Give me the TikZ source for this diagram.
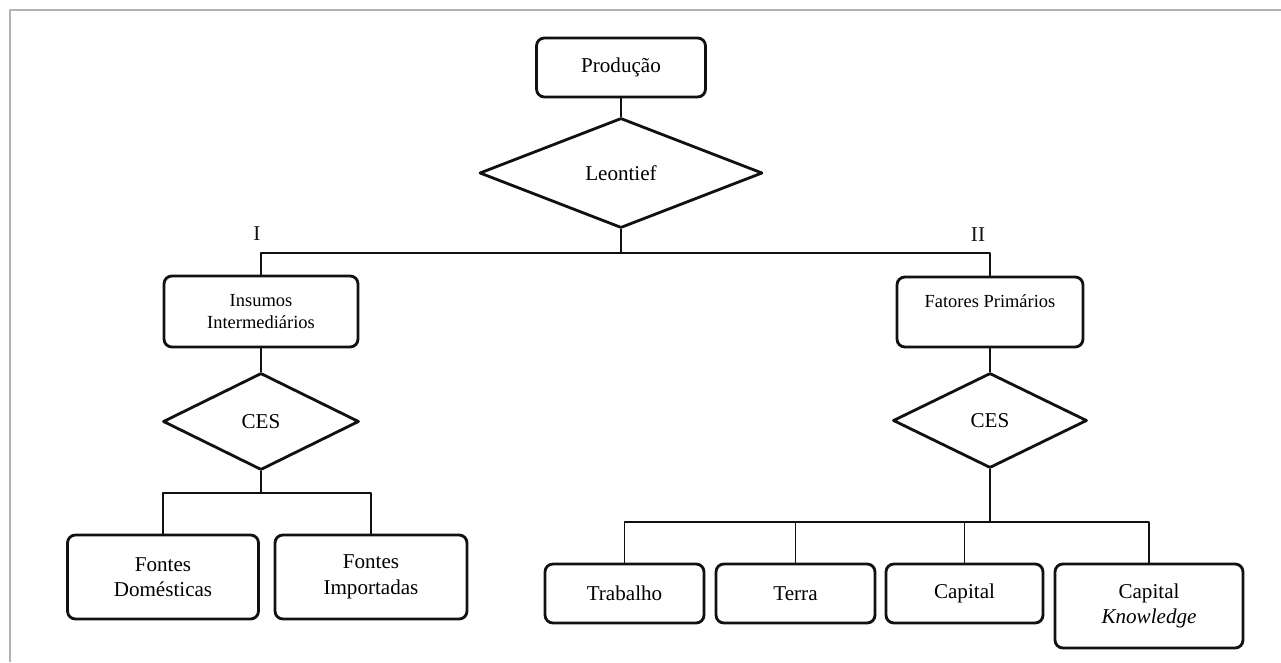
\documentclass[tikz,border=0pt]{standalone}
\usepackage{fontspec}
\setmainfont{Liberation Serif}
\usetikzlibrary{shapes.geometric}
\definecolor{ink}{HTML}{111111}
\definecolor{frame}{HTML}{B2B2B2}

\begin{document}
\begin{tikzpicture}[
  x=1cm,y=1cm,
  line join=round,
  box/.style={draw=ink, line width=1.6pt, rounded corners=4.5pt, align=center,
    inner sep=0pt, font=\fontsize{12}{14.5}\selectfont},
  smallbox/.style={box, font=\fontsize{10.5}{13}\selectfont},
  choice/.style={draw=ink, line width=1.6pt, diamond, inner sep=0pt,
    font=\fontsize{12}{14.5}\selectfont},
  tag/.style={font=\fontsize{12}{14.5}\selectfont, text=ink},
  link/.style={draw=ink, line width=.8pt}
]
\useasboundingbox (0,0) rectangle (25.62,13.24);

% page frame (top and left edge only)
\draw[frame, line width=1.7pt] (.2,0) -- (.2,13.04) -- (25.62,13.04);

% top level
\node[box, minimum width=3.38cm, minimum height=1.18cm] (prod) at (12.42,11.89) {Produção};
\node[choice, minimum width=5.66cm, minimum height=2.2cm] (leon) at (12.42,9.78) {Leontief};
\coordinate (split) at (12.42,8.18);

\node[tag] (lblI) at (5.14,8.56) {I};
\node[tag] (lblII) at (19.56,8.54) {II};

% branch I: intermediate inputs
\node[smallbox, minimum width=3.88cm, minimum height=1.42cm] (insumos) at (5.22,7.01) {Insumos\\Intermediários};
\node[choice, minimum width=3.92cm, minimum height=1.94cm] (ces1) at (5.22,4.81) {CES};
\coordinate (split1) at (5.22,3.38);
\node[box, minimum width=3.82cm, minimum height=1.68cm] (fdom) at (3.26,1.70) {Fontes\\Domésticas};
\node[box, minimum width=3.84cm, minimum height=1.68cm] (fimp) at (7.42,1.70) {Fontes\\Importadas};

% branch II: primary factors
\node[smallbox, minimum width=3.72cm, minimum height=1.40cm,
  text height=.26cm, text depth=.42cm] (fatores) at (19.80,7.00) {Fatores Primários};
\node[choice, minimum width=3.88cm, minimum height=1.90cm] (ces2) at (19.80,4.83) {CES};
\coordinate (split2) at (19.80,2.80);
\node[box, minimum width=3.18cm, minimum height=1.18cm] (trab) at (12.49,1.37) {Trabalho};
\node[box, minimum width=3.18cm, minimum height=1.18cm] (terra) at (15.91,1.37) {Terra};
\node[box, minimum width=3.14cm, minimum height=1.18cm] (capital) at (19.29,1.37) {Capital};
\node[box, minimum width=3.76cm, minimum height=1.68cm] (know) at (22.98,1.12) {Capital\\\textit{Knowledge}};

% connectors
\draw[link] (prod) -- (leon);
\draw[link] (leon) -- (split);
\draw[link] (insumos) |- (split) -| (fatores);

\draw[link] (insumos) -- (ces1);
\draw[link] (ces1) -- (split1);
\draw[link] (fdom) |- (split1) -| (fimp);

\draw[link] (fatores) -- (ces2);
\draw[link] (ces2) -- (split2);
\draw[link] (trab) |- (split2) -| (know);
\draw[link] (terra) |- (split2);
\draw[link] (capital) |- (split2);

\end{tikzpicture}
\end{document}
